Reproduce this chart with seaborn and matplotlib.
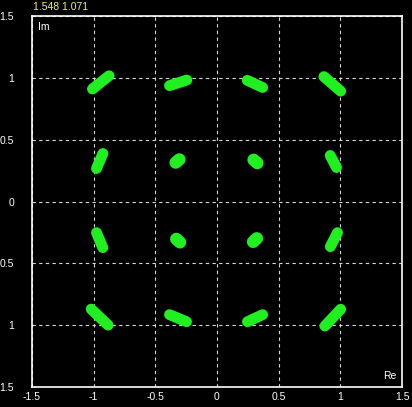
import pandas as pd
import matplotlib.pyplot as plt
import seaborn as sns

# cluster endpoints (Re, Im)
outer_re0 = [-1.01, -0.385, 0.245, 0.867, -0.925, 0.918, -0.977, 0.977,
             -1.02, -0.385, 0.247, 0.875]
outer_im0 = [0.91, 0.937, 0.98, 1.01, 0.388, 0.372, -0.252, -0.252,
             -0.87, -0.915, -0.972, -1.007]
outer_re1 = [-0.875, -0.245, 0.37, 1.003, -0.977, 0.969, -0.926, 0.919,
             -0.883, -0.247, 0.37, 1.003]
outer_im1 = [1.017, 0.982, 0.922, 0.892, 0.267, 0.275, -0.373, -0.365,
             -1.0, -0.972, -0.915, -0.871]

inner_re0 = [-0.335, 0.297, -0.33, 0.293]
inner_im0 = [0.315, 0.337, -0.303, -0.326]
inner_re1 = [-0.305, 0.327, -0.30, 0.323]
inner_im1 = [0.34, 0.311, -0.33, -0.298]

ticks = [-1.5, -1, -0.5, 0, 0.5, 1, 1.5]
x_labels = ["-1.5", "-1", "-0.5", "0", "0.5", "1", "1.5"]
y_labels = ["1.5", "1", "0.5", "0", "0.5", "1", "1.5"]
marker_text = "1.548 1.071"


def to_frame(re0, im0, re1, im1):
    rows = []
    for i in range(len(re0)):
        rows.append({"cluster": i, "Re": re0[i], "Im": im0[i]})
        rows.append({"cluster": i, "Re": re1[i], "Im": im1[i]})
    return pd.DataFrame(rows)


outer = to_frame(outer_re0, outer_im0, outer_re1, outer_im1)
inner = to_frame(inner_re0, inner_im0, inner_re1, inner_im1)

sns.set_style("dark")
plt.rcParams["font.family"] = ["Liberation Sans", "DejaVu Sans"]

fig = plt.figure(figsize=(4.12, 4.07), dpi=100, facecolor="black")
ax = fig.add_axes([32 / 412, 20 / 407, 370 / 412, 371 / 407])
ax.set_facecolor("black")

green = "#20f020"
sns.lineplot(data=outer, x="Re", y="Im", units="cluster", estimator=None,
             sort=False, color=green, lw=7.8, solid_capstyle="round", ax=ax)
sns.lineplot(data=inner, x="Re", y="Im", units="cluster", estimator=None,
             sort=False, color=green, lw=9.0, solid_capstyle="round", ax=ax)

ax.set_xlim(-1.5, 1.5)
ax.set_ylim(-1.5, 1.5)
ax.set_xticks(ticks)
ax.set_yticks(ticks)
ax.set_xticklabels(x_labels)
ax.set_yticklabels(y_labels)
ax.set_xlabel("")
ax.set_ylabel("")
ax.tick_params(colors="white", labelsize=7.5, length=3, direction="inout",
               width=0.7)
ax.tick_params(axis="y", pad=11.5)
ax.tick_params(axis="x", pad=2)
ax.grid(True, color="#d8d8d8", lw=0.8, ls=(0, (3, 3)))

for side in ["left", "right", "top", "bottom"]:
    ax.spines[side].set_visible(True)
    ax.spines[side].set_color("white")
    ax.spines[side].set_linewidth(1.2)

ax.text(0.015, 0.985, "Im", transform=ax.transAxes, color="white",
        fontsize=7.5, ha="left", va="top")
ax.text(0.985, 0.015, "Re", transform=ax.transAxes, color="white",
        fontsize=7.5, ha="right", va="bottom")
fig.text(33 / 412, 1 - 2 / 407, marker_text, color="#f0f060",
         fontsize=7.5, ha="left", va="top")

fig.savefig("out.png", dpi=100, facecolor="black")
